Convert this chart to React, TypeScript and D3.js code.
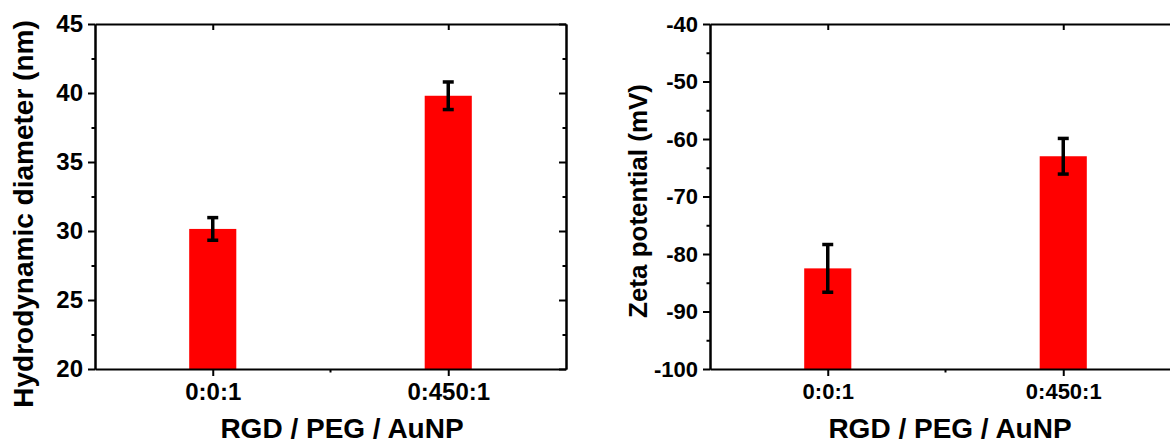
import * as d3 from "d3"
import React, { useEffect, useRef } from "react"

// data
const categories = ["0:0:1", "0:450:1"]
const diameter = [30.15, 39.8]
const diameterErr = [0.82, 1.0]
const zeta = [-82.5, -63.0]
const zetaErr = [4.15, 3.1]

const FONT = "'Liberation Sans', Arial, Helvetica, sans-serif"

type Panel = {
  left: number
  top: number
  width: number
  height: number
  yDomain: [number, number]
  yStep: number
  values: number[]
  errs: number[]
  yTitle: string
  yTitleX: number
  yTitleY: number
  yTitleSize: number
  xTitleX: number
  tickSize: number
}

function drawPanel(svg: d3.Selection<SVGSVGElement, unknown, null, undefined>, p: Panel) {
  const g = svg.append("g").attr("transform", "translate(" + p.left + "," + p.top + ")")

  const x = d3.scalePoint<string>().domain(categories).range([0, p.width]).padding(0.5)
  const y = d3.scaleLinear().domain(p.yDomain).range([p.height, 0])
  const barW = p.width * 0.1

  const major = d3.range(p.yDomain[0], p.yDomain[1] + 0.001, p.yStep)
  const minor = d3.range(p.yDomain[0] + p.yStep / 2, p.yDomain[1], p.yStep)

  // bars
  g.selectAll("rect.bar")
    .data(p.values)
    .enter()
    .append("rect")
    .attr("class", "bar")
    .attr("x", (d, i) => (x(categories[i]) as number) - barW / 2)
    .attr("y", d => y(d))
    .attr("width", barW)
    .attr("height", d => p.height - y(d))
    .attr("fill", "#ff0000")

  // error bars
  const eb = g.selectAll("g.err")
    .data(p.values)
    .enter()
    .append("g")
    .attr("class", "err")
    .attr("stroke", "#000")
    .attr("stroke-width", 3.5)
  eb.append("line")
    .attr("x1", (d, i) => x(categories[i]) as number)
    .attr("x2", (d, i) => x(categories[i]) as number)
    .attr("y1", (d, i) => y(d + p.errs[i]))
    .attr("y2", (d, i) => y(d - p.errs[i]))
  eb.append("line")
    .attr("x1", (d, i) => (x(categories[i]) as number) - 5.5)
    .attr("x2", (d, i) => (x(categories[i]) as number) + 5.5)
    .attr("y1", (d, i) => y(d + p.errs[i]))
    .attr("y2", (d, i) => y(d + p.errs[i]))
  eb.append("line")
    .attr("x1", (d, i) => (x(categories[i]) as number) - 5.5)
    .attr("x2", (d, i) => (x(categories[i]) as number) + 5.5)
    .attr("y1", (d, i) => y(d - p.errs[i]))
    .attr("y2", (d, i) => y(d - p.errs[i]))

  const styleAxis = (sel: any, size: number) => {
    sel.attr("font-family", FONT).attr("font-size", size).attr("font-weight", "bold")
    sel.selectAll("path.domain").attr("stroke-width", 2)
    sel.selectAll(".tick line").attr("stroke-width", 2)
    sel.selectAll(".tick text").attr("fill", "#000")
  }

  // left axis
  const yl = g.append("g")
    .call(d3.axisLeft(y).tickValues(major).tickSize(7).tickSizeOuter(0).tickPadding(5).tickFormat(d => String(d)))
  styleAxis(yl, p.tickSize)
  const ylm = g.append("g")
    .call(d3.axisLeft(y).tickValues(minor).tickSize(3.5).tickSizeOuter(0).tickFormat(() => ""))
  styleAxis(ylm, p.tickSize)

  // right axis, ticks inward
  const yr = g.append("g").attr("transform", "translate(" + p.width + ",0)")
    .call(d3.axisLeft(y).tickValues(major).tickSize(7).tickSizeOuter(0).tickFormat(() => ""))
  styleAxis(yr, p.tickSize)
  const yrm = g.append("g").attr("transform", "translate(" + p.width + ",0)")
    .call(d3.axisLeft(y).tickValues(minor).tickSize(3.5).tickSizeOuter(0).tickFormat(() => ""))
  styleAxis(yrm, p.tickSize)

  // bottom axis
  const xb = g.append("g").attr("transform", "translate(0," + p.height + ")")
    .call(d3.axisBottom(x).tickSize(7).tickSizeOuter(0).tickPadding(7))
  styleAxis(xb, p.tickSize)
  g.append("line")
    .attr("x1", p.width / 2).attr("x2", p.width / 2)
    .attr("y1", p.height).attr("y2", p.height + 3.5)
    .attr("stroke", "#000").attr("stroke-width", 2)

  // top axis, ticks inward
  const xt = g.append("g")
    .call(d3.axisBottom(x).tickSize(6).tickSizeOuter(0).tickFormat(() => ""))
  styleAxis(xt, p.tickSize)

  // titles
  svg.append("text")
    .attr("transform", "translate(" + p.yTitleX + "," + p.yTitleY + ") rotate(-90)")
    .attr("text-anchor", "middle")
    .attr("font-family", FONT)
    .attr("font-weight", "bold")
    .attr("font-size", p.yTitleSize)
    .text(p.yTitle)

  svg.append("text")
    .attr("x", p.xTitleX)
    .attr("y", 438)
    .attr("text-anchor", "middle")
    .attr("font-family", FONT)
    .attr("font-weight", "bold")
    .attr("font-size", 28)
    .text("RGD / PEG / AuNP")
}

export default function App() {
  const ref = useRef<SVGSVGElement>(null)

  useEffect(() => {
    const svg = d3.select(ref.current as SVGSVGElement)
    svg.selectAll("*").remove()

    drawPanel(svg, {
      left: 95, top: 24, width: 471, height: 345,
      yDomain: [20, 45], yStep: 5,
      values: diameter, errs: diameterErr,
      yTitle: "Hydrodynamic diameter (nm)",
      yTitleX: 33, yTitleY: 214, yTitleSize: 28,
      xTitleX: 342, tickSize: 24,
    })

    drawPanel(svg, {
      left: 710, top: 24, width: 471, height: 345,
      yDomain: [-100, -40], yStep: 10,
      values: zeta, errs: zetaErr,
      yTitle: "Zeta potential (mV)",
      yTitleX: 647, yTitleY: 201, yTitleSize: 26,
      xTitleX: 950, tickSize: 22,
    })
  }, [])

  return (
    <svg
      ref={ref}
      width={1170}
      height={444}
      style={{ position: "absolute", left: 0, top: 0, background: "#fff" }}
    />
  )
}
